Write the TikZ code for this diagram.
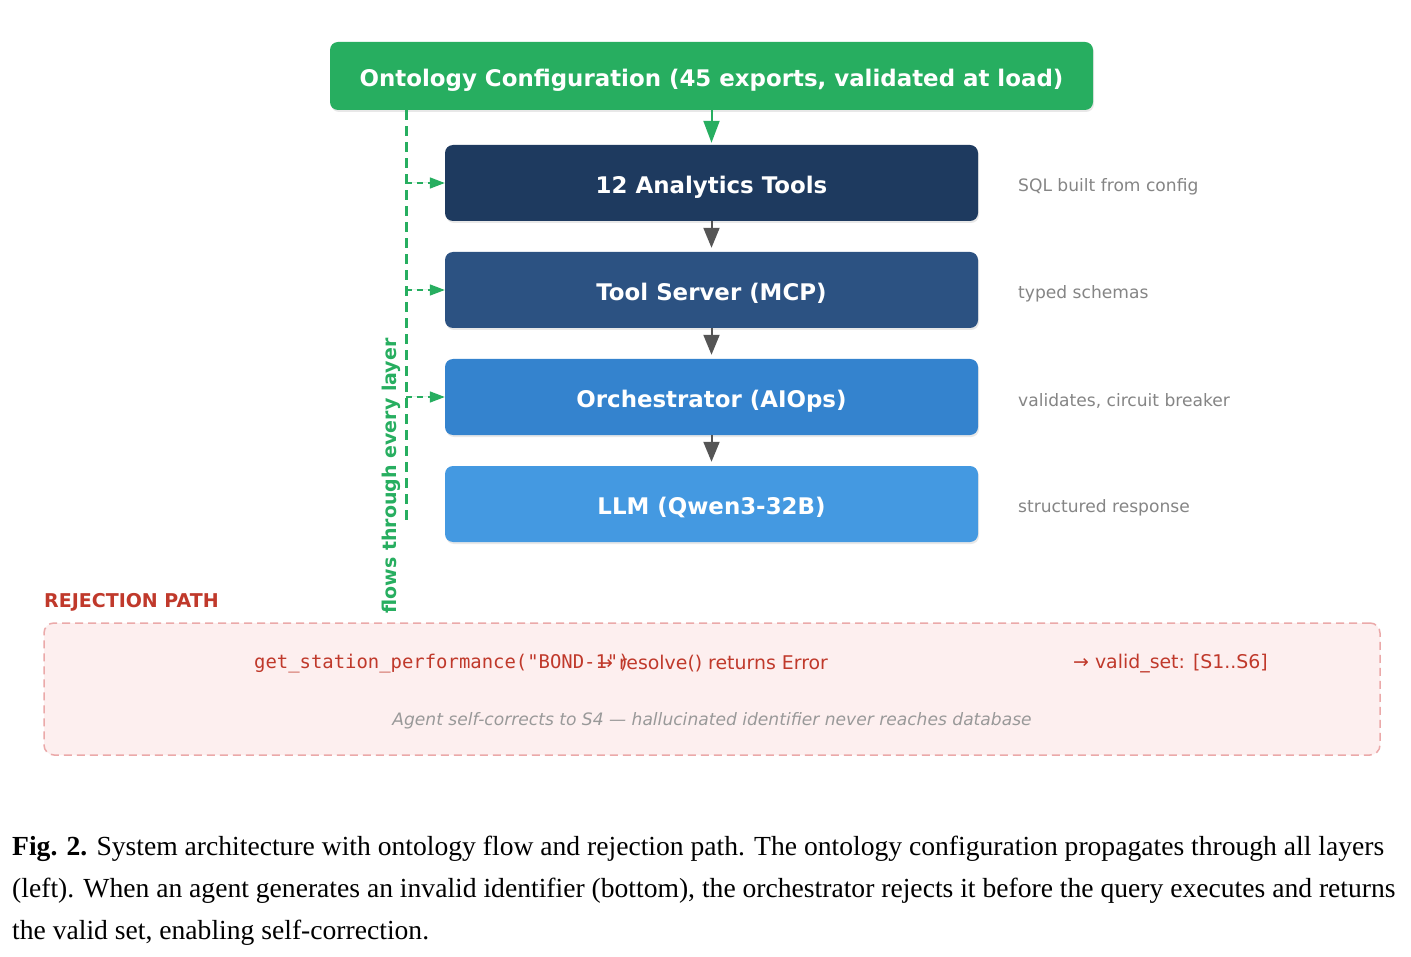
\documentclass[tikz,border=0pt]{standalone}
\usepackage{fontspec}
\setmainfont{DejaVu Sans}
\setmonofont{DejaVu Sans Mono}
\newfontfamily\capfont{Liberation Serif}
\usetikzlibrary{arrows.meta,shadows}
\definecolor{ongreen}{HTML}{27AE60}
\definecolor{cA}{HTML}{1E3A5F}
\definecolor{cB}{HTML}{2C5282}
\definecolor{cC}{HTML}{3483CE}
\definecolor{cD}{HTML}{4499E1}
\definecolor{rejred}{HTML}{C0392B}
\definecolor{rejborder}{HTML}{EBA9A9}
\definecolor{rejfill}{HTML}{FDEFEF}
\definecolor{sidegray}{HTML}{858585}
\definecolor{itgray}{HTML}{999999}
\definecolor{arrgray}{HTML}{555555}
\begin{document}
\begin{tikzpicture}[x=1pt,y=-1pt,
  layer/.style={rectangle, rounded corners=8pt, draw=none, text=white,
    font=\bfseries\fontsize{22.9}{27}\selectfont, minimum width=533pt, minimum height=76pt,
    text height=20.5pt, text depth=0pt,
    drop shadow={shadow xshift=1pt, shadow yshift=-2pt, opacity=0.18}},
  sidelbl/.style={anchor=west, inner sep=0pt, text=sidegray, font=\fontsize{17.1}{20}\selectfont},
  grayarrow/.style={draw=arrgray, line width=2pt, -{Triangle[width=16pt,length=20pt]}, fill=arrgray, shorten >=4pt},
  greenarrow/.style={draw=ongreen, line width=2pt, -{Triangle[width=16pt,length=22pt]}, fill=ongreen, shorten >=2pt},
  flowdash/.style={draw=ongreen, line width=3pt, dash pattern=on 10pt off 6pt},
  flowarrow/.style={draw=ongreen, line width=1.6pt, dash pattern=on 6pt off 5pt, -{Triangle[width=11pt,length=15pt]}, fill=ongreen},
  rejbox/.style={rectangle, rounded corners=10pt, draw=rejborder, fill=rejfill, line width=1.5pt, dash pattern=on 8pt off 5pt},
  plain/.style={anchor=west, inner sep=0pt}
]
\useasboundingbox (0,0) rectangle (1411,957);
\fill[white] (0,0) rectangle (1411,957);

% top config box
\node[layer, fill=ongreen, minimum width=763pt, minimum height=68pt] (onto) at (711.5,76) {Ontology Configuration (45 exports, validated at load)};

% layers
\node[layer, fill=cA] (tools) at (711.5,183) {12 Analytics Tools};
\node[layer, fill=cB] (server) at (711.5,290) {Tool Server (MCP)};
\node[layer, fill=cC] (orch) at (711.5,397) {Orchestrator (AIOps)};
\node[layer, fill=cD] (llm) at (711.5,504) {LLM (Qwen3-32B)};

% side labels
\node[sidelbl] (l1) at (1018,187) {SQL built from config};
\node[sidelbl] (l2) at (1018,294) {typed schemas};
\node[sidelbl] (l3) at (1018,401) {validates, circuit breaker};
\node[sidelbl] (l4) at (1018,508) {structured response};

% arrows
\draw[greenarrow] (onto.south) -- (tools.north);
\draw[grayarrow] (tools.south) -- (server.north);
\draw[grayarrow] (server.south) -- (orch.north);
\draw[grayarrow] (orch.south) -- (llm.north);

% ontology flow
\coordinate (vbot) at (406,522);
\draw[flowdash] (vbot |- onto.south) -- (vbot);
\draw[flowarrow] (vbot |- tools.west) -- (tools.west);
\draw[flowarrow] (vbot |- server.west) -- (server.west);
\draw[flowarrow] (vbot |- orch.west) -- (orch.west);
\node[rotate=90, text=ongreen, font=\bfseries\fontsize{19}{22}\selectfont, inner sep=0pt] (flowlbl) at (391,476) {flows through every layer};

% rejection path
\node[plain, text=rejred, font=\bfseries\fontsize{19}{22}\selectfont] (rejlbl) at (44,602) {REJECTION PATH};
\node[rejbox, minimum width=1336pt, minimum height=132pt] (rej) at (712,689) {};
\node[plain, text=rejred, font=\ttfamily\fontsize{18.9}{22}\selectfont] (call) at (254,663.5) {get\_station\_performance("BOND-1")};
\node[plain, text=rejred, font=\fontsize{18.9}{22}\selectfont] (resolve) at (597,663.5) {→ resolve() returns Error};
\node[plain, text=rejred, font=\fontsize{18.9}{22}\selectfont] (valid) at (1073,663.5) {→ valid\_set: [S1..S6]};
\node[text=itgray, font=\itshape\fontsize{17.1}{20}\selectfont, inner sep=0pt] (selfcorr) at (712,721) {Agent self-corrects to S4 — hallucinated identifier never reaches database};

% caption
\node[plain, font=\capfont\fontsize{27.6}{32}\selectfont] (cap1) at (12,849) {\textbf{Fig. 2.} System architecture with ontology flow and rejection path. The ontology configuration propagates through all layers};
\node[plain, font=\capfont\fontsize{27.6}{32}\selectfont] (cap2) at (12,891) {(left). When an agent generates an invalid identifier (bottom), the orchestrator rejects it before the query executes and returns};
\node[plain, font=\capfont\fontsize{27.6}{32}\selectfont] (cap3) at (12,933) {the valid set, enabling self-correction.};
\end{tikzpicture}
\end{document}
